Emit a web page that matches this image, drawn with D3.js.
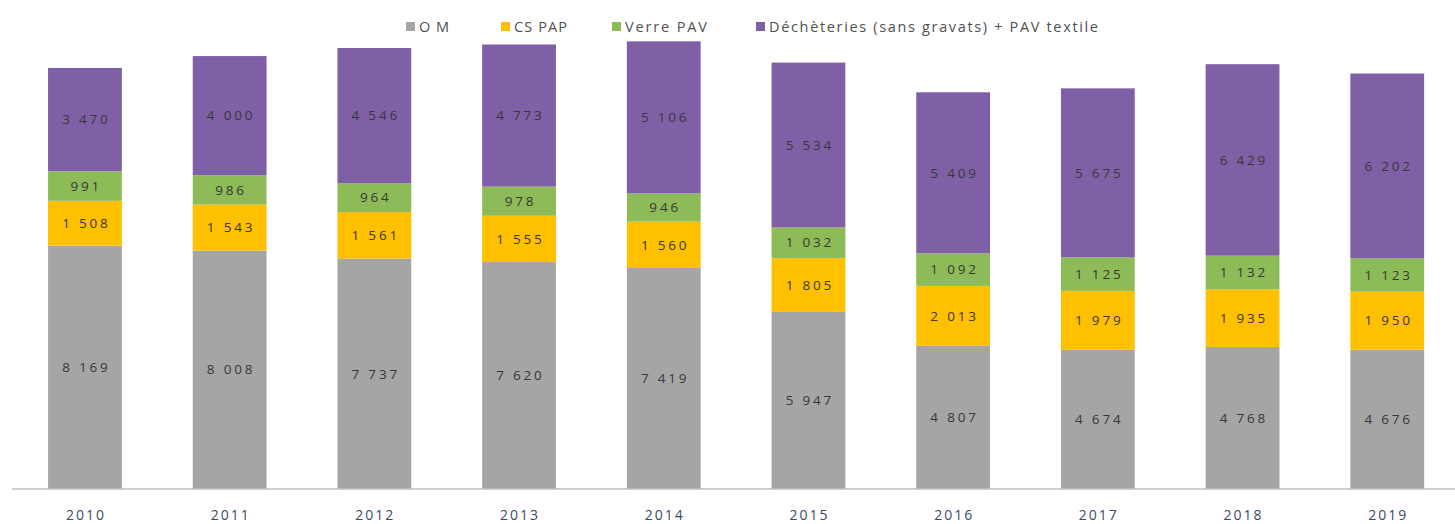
<!DOCTYPE html>
<html><head><meta charset="utf-8">
<script src="https://cdn.jsdelivr.net/npm/d3@7"></script>
<style>body{margin:0;background:#fff}svg{display:block}</style>
</head><body><svg id="c" width="1455" height="524"></svg>
<script>
const years = ["2010","2011","2012","2013","2014","2015","2016","2017","2018","2019"];
const seriesNames = ["OM","CS PAP","Verre PAV","Déchèteries (sans gravats) + PAV textile"];
const om = [8169,8008,7737,7620,7419,5947,4807,4674,4768,4676];
const csPap = [1508,1543,1561,1555,1560,1805,2013,1979,1935,1950];
const verrePav = [991,986,964,978,946,1032,1092,1125,1132,1123];
const decheteries = [3470,4000,4546,4773,5106,5534,5409,5675,6429,6202];
const colors = ["#a5a5a5","#ffc000","#8cbb57","#7f60a6"];

const svg = d3.select("#c");
const keys = ["om","cs","verre","dech"];
const rows = years.map((y,i)=>({year:y, om:om[i], cs:csPap[i], verre:verrePav[i], dech:decheteries[i]}));
const stack = d3.stack().keys(keys)(rows);

const x = d3.scaleBand().domain(years).range([12.6,1459.6]).paddingInner(0.49).paddingOuter(0.245);
const y = d3.scaleLinear().domain([0,16000]).range([489,12.5]);
const fmt = v => d3.format(",")(v).replace(/,/g," ");
const LS = 2.8;

const g = svg.append("g");
stack.forEach((s,k)=>{
  const grp = g.append("g").attr("fill",colors[k]);
  grp.selectAll("rect").data(s).join("rect")
    .attr("x",d=>x(d.data.year)).attr("width",x.bandwidth())
    .attr("y",d=>y(d[1])).attr("height",d=>y(d[0])-y(d[1]));
  g.append("g").selectAll("text").data(s).join("text")
    .attr("x",d=>x(d.data.year)+x.bandwidth()/2 + LS/2)
    .attr("y",d=>(y(d[0])+y(d[1]))/2)
    .attr("dy","0.35em").attr("text-anchor","middle")
    .attr("font-family","Open Sans, sans-serif").attr("font-size",13.5)
    .attr("letter-spacing",LS)
    .attr("fill","#383838")
    .text(d=>fmt(d[1]-d[0]));
});

// axis
const ax = svg.append("g").attr("transform","translate(0,489)")
  .call(d3.axisBottom(x).tickSize(0).tickPadding(21));
ax.select(".domain").attr("stroke","#bfbfbf").attr("stroke-width",1.5).attr("d","M12,0H1455");
ax.selectAll("text").attr("font-family","Open Sans, sans-serif").attr("font-size",14)
  .attr("letter-spacing",2).attr("dx",1)
  .attr("fill","#3d4a66");

// legend
const legendX = [406,501,612,756];
const legendW = [30,53,82,329];
const lg = svg.append("g");
seriesNames.forEach((n,i)=>{
  lg.append("rect").attr("x",legendX[i]).attr("y",22).attr("width",9).attr("height",9).attr("fill",colors[i]);
  lg.append("text").attr("x",legendX[i]+13).attr("y",26.5).attr("dy","0.35em")
    .attr("font-family","Open Sans, sans-serif").attr("font-size",14.5)
    .attr("textLength",legendW[i]).attr("lengthAdjust","spacing")
    .attr("fill","#505050").text(n);
});
</script></body></html>
